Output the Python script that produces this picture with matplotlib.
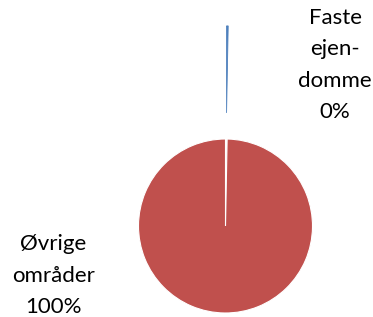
import matplotlib.pyplot as plt

categories = ['Faste\nejen-\ndomme', 'Øvrige\nområder']
values = [0.3, 99.7]
colors = ['#4F81BD', '#C0504D']
explode = [1.3, 0]

# label anchor points in pie units (radius = 1)
label_pos = [(1.26, 1.85), (-1.98, -0.57)]


def plot():
    fig = plt.figure(figsize=(3.73, 3.17), dpi=100)
    ax = fig.add_axes([0, 0, 1, 1])
    ax.axis('off')

    wedges, _ = ax.pie(values, colors=colors, explode=explode, startangle=90,
                       counterclock=False, radius=1)
    # white seam on the big slice only, so the thin one stays visible
    wedges[0].set_edgecolor(colors[0])
    wedges[0].set_linewidth(0.6)
    wedges[1].set_edgecolor('white')
    wedges[1].set_linewidth(0.8)

    total = sum(values)
    for name, v, (x, y) in zip(categories, values, label_pos):
        pct = round(v / total * 100)
        ax.text(x, y, f'{name}\n{pct}%', ha='center', va='center',
                fontsize=16, family='Lato', linespacing=1.72, color='#000000')

    ax.set_xlim(-225.5 / 87, (373 - 225.5) / 87)
    ax.set_ylim(-(317 - 226) / 87, 226 / 87)
    ax.set_aspect('auto')
    fig.savefig('out.png', dpi=100)


if __name__ == '__main__':
    plot()
